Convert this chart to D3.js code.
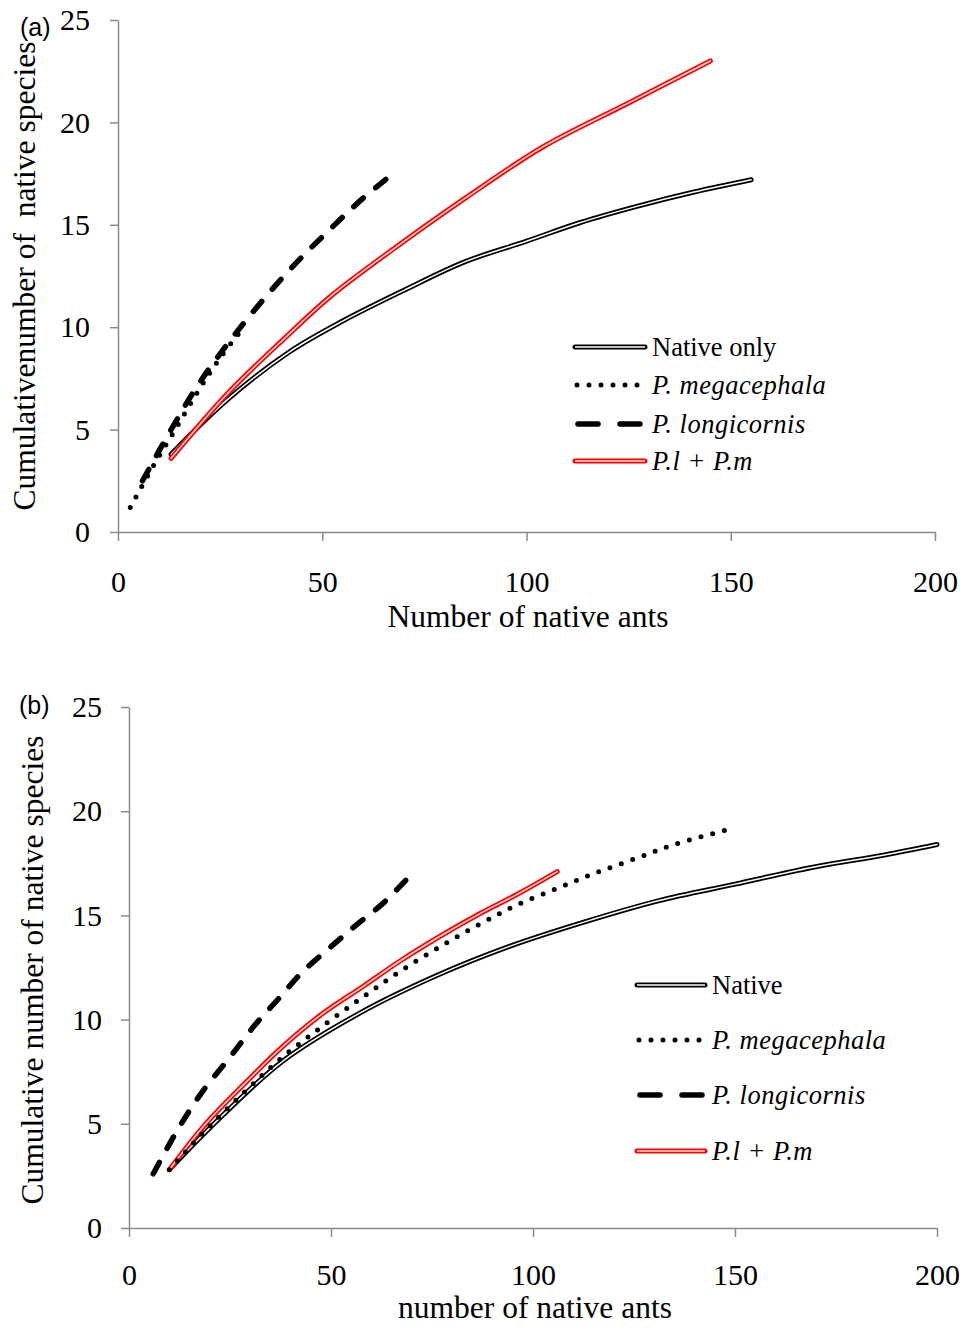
<!DOCTYPE html>
<html><head><meta charset="utf-8">
<script src="https://cdn.jsdelivr.net/npm/d3@7"></script>
<style>body{margin:0;background:#fff}svg{display:block}</style>
</head><body>
<script>
// ---------- data ----------
const xTicks = [0, 50, 100, 150, 200];
const yTicks = [0, 5, 10, 15, 20, 25];

// Panel (a)
const aNative = [[13,3.8],[27,6.5],[42,8.8],[55,10.3],[70,11.8],[85,13.2],[100,14.2],[113,15.1],[127,15.9],[141,16.6],[155,17.2]];
const aMega   = [[3,1.2],[8,3.0],[14,5.0],[20,7.0],[25,8.5],[30,9.8]];
const aLongi  = [[6,2.5],[13,5.0],[20,7.3],[30,10.0],[42,12.8],[52,14.8],[60,16.3],[68,17.6]];
const aPlPm   = [[13,3.6],[27,6.8],[41,9.5],[52,11.5],[68,13.9],[85,16.3],[104,18.8],[125,20.95],[145,23.0]];
const aLegend = ["Native only", "P. megacephala", "P. longicornis", "P.l + P.m"];

// Panel (b)
const bNative = [[10,2.8],[20,4.8],[38,8.0],[57,10.3],[76,12.1],[94,13.5],[113,14.7],[131,15.7],[150,16.5],[169,17.3],[187,17.9],[200,18.4]];
const bMega   = [[10,2.8],[19,4.7],[29,6.6],[38,8.2],[48,9.7],[58,11.1],[67,12.3],[77,13.5],[87,14.6],[96,15.5],[106,16.3],[115,17.0],[125,17.7],[135,18.4],[148,19.1]];
const bLongi  = [[6,2.6],[12,4.7],[18,6.5],[25,8.2],[31,9.7],[37,11.0],[43,12.3],[50,13.5],[56,14.5],[63,15.6],[70,17.0]];
const bPlPm   = [[10,2.8],[19,5.0],[29,7.0],[38,8.7],[48,10.3],[58,11.6],[67,12.8],[77,14.0],[87,15.1],[96,16.0],[106,17.1]];
const bLegend = ["Native", "P. megacephala", "P. longicornis", "P.l + P.m"];

const W = 968, H = 1331;
const svg = d3.select("body").append("svg").attr("width", W).attr("height", H);
const serif = "'Liberation Serif','Times New Roman',serif";
const axisColor = "#8a8a8a";

function drawLine(g, data, x, y, style) {
  const line = d3.line().x(d => x(d[0])).y(d => y(d[1])).curve(d3.curveCatmullRom.alpha(0.5));
  if (style === "native" || style === "red") {
    g.append("path").attr("d", line(data)).attr("fill", "none")
      .attr("stroke", style === "red" ? "#ff0000" : "#000").attr("stroke-width", 5)
      .attr("stroke-linecap", "round").attr("stroke-linejoin", "round");
    g.append("path").attr("d", line(data)).attr("fill", "none")
      .attr("stroke", style === "red" ? "#ffe0e0" : "#fff").attr("stroke-width", 1.5)
      .attr("stroke-linecap", "round").attr("stroke-linejoin", "round");
  } else if (style === "dot") {
    g.append("path").attr("d", line(data)).attr("fill", "none")
      .attr("stroke", "#000").attr("stroke-width", 5)
      .attr("stroke-dasharray", "0 12").attr("stroke-linecap", "round");
  } else if (style === "dash") {
    g.append("path").attr("d", line(data)).attr("fill", "none")
      .attr("stroke", "#000").attr("stroke-width", 5.5)
      .attr("stroke-dasharray", "13 16").attr("stroke-linecap", "round");
  }
}

function legendSample(g, x0, x1, yy, style) {
  const l = g.append("line").attr("x1", x0).attr("x2", x1).attr("y1", yy).attr("y2", yy);
  if (style === "native" || style === "red") {
    l.attr("stroke", style === "red" ? "#ff0000" : "#000").attr("stroke-width", 5).attr("stroke-linecap", "round");
    g.append("line").attr("x1", x0).attr("x2", x1).attr("y1", yy).attr("y2", yy)
      .attr("stroke", style === "red" ? "#ffe0e0" : "#fff").attr("stroke-width", 1.5);
  } else if (style === "dot") {
    l.attr("stroke", "#000").attr("stroke-width", 5).attr("stroke-dasharray", "0 12").attr("stroke-linecap", "round")
     .attr("x1", x0 + 2);
  } else {
    l.attr("stroke", "#000").attr("stroke-width", 5.5).attr("stroke-dasharray", "20 22").attr("stroke-linecap", "round")
     .attr("x1", x0 + 3);
  }
}

function panel(cfg) {
  const x = d3.scaleLinear().domain([0, 200]).range([cfg.left, cfg.right]);
  const y = d3.scaleLinear().domain([0, 25]).range([cfg.bottom, cfg.top]);
  const g = svg.append("g");

  const xa = g.append("g").attr("transform", `translate(0,${cfg.bottom})`)
    .call(d3.axisBottom(x).tickValues(xTicks).tickSize(9).tickSizeOuter(0).tickPadding(cfg.xPad));
  const ya = g.append("g").attr("transform", `translate(${cfg.left},0)`)
    .call(d3.axisLeft(y).tickValues(yTicks).tickSize(8).tickSizeOuter(0).tickPadding(cfg.yPad));
  [xa, ya].forEach(a => {
    a.select(".domain").attr("stroke", axisColor).attr("stroke-width", 1.5);
    a.selectAll(".tick line").attr("stroke", axisColor).attr("stroke-width", 1.5);
    a.selectAll(".tick text").attr("fill", "#000").style("font-family", serif).style("font-size", "30px");
  });

  drawLine(g, cfg.native, x, y, "native");
  drawLine(g, cfg.red, x, y, "red");
  drawLine(g, cfg.longi, x, y, "dash");
  drawLine(g, cfg.mega, x, y, "dot");

  // legend
  const styles = ["native", "dot", "dash", "red"];
  cfg.legend.forEach((t, i) => {
    const yy = cfg.legY[i];
    legendSample(g, cfg.legX0, cfg.legX1, yy, styles[i]);
    g.append("text").attr("x", cfg.legX1 + 7).attr("y", yy + 9)
      .style("font-family", serif).style("font-size", "26.5px")
      .style("letter-spacing", i === 0 ? "0px" : "0.5px")
      .style("font-style", i === 0 ? "normal" : "italic").text(t);
  });

  g.append("text").attr("x", cfg.xtX).attr("y", cfg.xtY)
    .attr("text-anchor", "middle").style("font-family", serif).style("font-size", "31.5px").text(cfg.xTitle);
  g.append("text").attr("transform", `translate(${cfg.ytX},${cfg.ytY}) rotate(-90)`)
    .attr("text-anchor", "middle").style("font-family", serif).style("font-size", "31.5px")
    .style("white-space", "pre").attr("xml:space", "preserve").text(cfg.yTitle);
  g.append("text").attr("x", cfg.labX).attr("y", cfg.labY)
    .style("font-family", "'Liberation Sans',Arial,sans-serif").style("font-size", "25px").text(cfg.label);
}

panel({
  left: 118, right: 935, top: 20, bottom: 532, xPad: 30, yPad: 20,
  native: aNative, mega: aMega, longi: aLongi, red: aPlPm, legend: aLegend,
  legX0: 575, legX1: 645, legY: [347, 385, 424, 461],
  xTitle: "Number of native ants", xtX: 528, xtY: 627,
  yTitle: "Cumulativenumber of  native species", ytX: 35, ytY: 276,
  label: "(a)", labX: 20, labY: 36
});
panel({
  left: 129, right: 937, top: 707, bottom: 1228, xPad: 27, yPad: 19,
  native: bNative, mega: bMega, longi: bLongi, red: bPlPm, legend: bLegend,
  legX0: 637, legX1: 705, legY: [985, 1040, 1095, 1151],
  xTitle: "number of native ants", xtX: 535, xtY: 1318,
  yTitle: "Cumulative number of native species", ytX: 43, ytY: 970,
  label: "(b)", labX: 19, labY: 714
});
</script>
</body></html>
